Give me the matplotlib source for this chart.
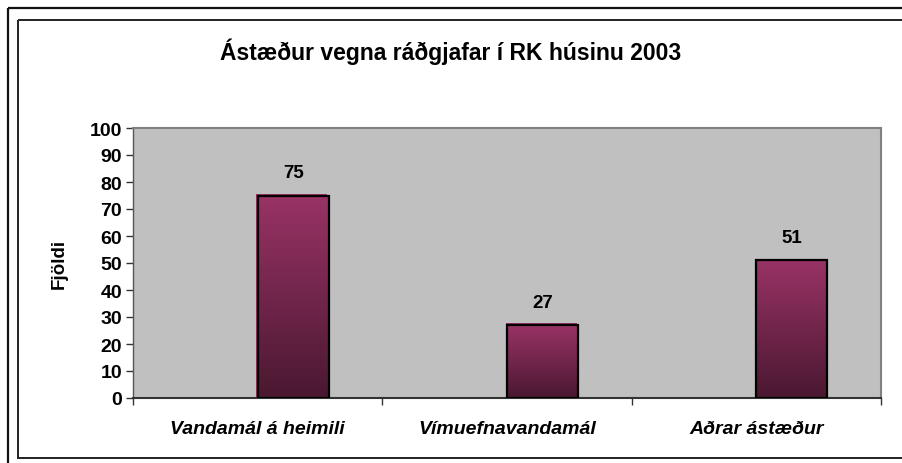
import numpy as np
import matplotlib.pyplot as plt
from matplotlib.patches import Rectangle
from matplotlib.colors import LinearSegmentedColormap

plt.rcParams.update(
    {
        "font.family": ["Liberation Sans", "DejaVu Sans"],
        "font.weight": "bold",
    }
)

title = "Ástæður vegna ráðgjafar í RK húsinu 2003"
categories = ["Vandamál á heimili", "Vímuefnavandamál", "Aðrar ástæður"]
values = [75, 27, 51]
yticks = list(range(0, 101, 10))
ylabel = "Fjöldi"

fig = plt.figure(figsize=(9.02, 4.64), dpi=100)
W, H = 902, 464

# double frame round the chart
fig.patches.append(Rectangle((8 / W, 1 - 9 / H), 1.2, -1.2, transform=fig.transFigure,
                             fill=False, edgecolor="#111111", linewidth=1.6))
fig.patches.append(Rectangle((18 / W, 1 - 21 / H), 1.2, -(459 - 21) / H,
                             transform=fig.transFigure, fill=False,
                             edgecolor="#222222", linewidth=1.4))

ax = fig.add_axes([133 / W, 1 - 399 / H, 748 / W, 270 / H])
ax.set_facecolor("#C0C0C0")

cmap = LinearSegmentedColormap.from_list("plum", ["#4A1830", "#993366"])
grad = np.linspace(0, 1, 256).reshape(-1, 1)
bw = 0.285
for i, v in enumerate(values):
    x0 = i + 0.5
    # thin pink shadow to the upper left
    ax.add_patch(Rectangle((x0 - 0.006, 0), bw, v + 0.6, facecolor="#993366",
                           edgecolor="none", zorder=2))
    im = ax.imshow(grad, extent=[x0, x0 + bw, 0, v], origin="lower",
                   cmap=cmap, aspect="auto", zorder=3)
    r = Rectangle((x0, 0), bw, v, fill=False, edgecolor="black",
                  linewidth=1.6, zorder=4)
    ax.add_patch(r)
    im.set_clip_path(r)
    ax.annotate(str(v), (x0 + bw / 2, v), xytext=(0, 16.5), textcoords="offset points",
                ha="center", va="center", fontsize=13.5, fontweight="bold")

ax.set_xlim(0, len(categories))
ax.set_ylim(0, 100)
ax.set_yticks(yticks)
ax.set_yticklabels([str(t) for t in yticks], fontsize=14, fontweight="bold")
ax.set_xticks(np.arange(len(categories) + 1))
ax.set_xticklabels([])
ax.set_xticks(np.arange(len(categories)) + 0.5, minor=True)
ax.set_xticklabels(categories, minor=True, fontsize=14, fontweight="bold",
                   style="italic")
ax.tick_params(axis="x", which="minor", length=0, pad=16)
ax.tick_params(axis="x", which="major", length=5, width=1, color="#333333")
ax.tick_params(axis="y", length=5, width=1, color="#333333", pad=3)

for s in ["top", "right"]:
    ax.spines[s].set_color("#808080")
    ax.spines[s].set_linewidth(1.5)
ax.spines["bottom"].set_color("#333333")
ax.spines["bottom"].set_linewidth(1.5)
ax.spines["left"].set_color("#555555")
ax.spines["left"].set_linewidth(1.0)

ax.set_ylabel(ylabel, fontsize=13.5, fontweight="bold")
ax.yaxis.set_label_coords(-0.087, 0.5)
fig.text(451 / W, 1 - 52 / H, title, ha="center", va="center", fontsize=16.5,
         fontweight="bold")

fig.savefig("out.png", dpi=100)
